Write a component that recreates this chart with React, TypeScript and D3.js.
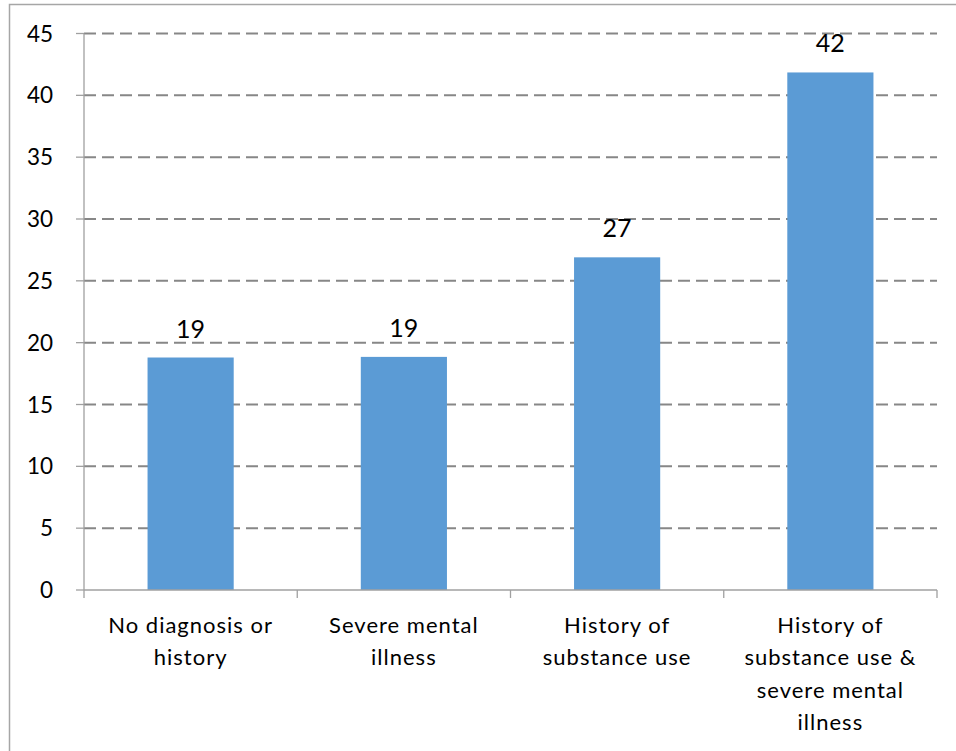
import React from "react";
import * as d3 from "d3";

const categories: string[][] = [
  ["No diagnosis or", "history"],
  ["Severe mental", "illness"],
  ["History of", "substance use"],
  ["History of", "substance use &", "severe mental", "illness"],
];
const values = [18.8, 18.85, 26.9, 41.85];
const valueLabels = ["19", "19", "27", "42"];
const yTicks = [0, 5, 10, 15, 20, 25, 30, 35, 40, 45];

const W = 956;
const H = 751;
const left = 84;
const right = 937;
const top = 33.5;
const bottom = 590;
const FONT = "Lato, 'Open Sans', sans-serif";

export default function App() {
  const x = d3
    .scaleBand<number>()
    .domain(categories.map((_, i) => i))
    .range([left, right])
    .paddingInner(0)
    .paddingOuter(0);
  const y = d3.scaleLinear().domain([0, 45]).range([bottom, top]);
  const bw = x.bandwidth() * 0.404;

  return (
    <svg
      width={W}
      height={H}
      style={{ position: "absolute", left: 0, top: 0, background: "#fff" }}
    >
      <rect x={9.5} y={4.5} width={960} height={760} fill="#fff" stroke="#a6a6a6" strokeWidth={1.5} />
      {yTicks.slice(1).map((t) => (
        <line
          key={"g" + t}
          x1={left}
          x2={right}
          y1={y(t)}
          y2={y(t)}
          stroke="#878787"
          strokeWidth={2}
          strokeDasharray="12,6"
        />
      ))}
      {values.map((v, i) => (
        <rect
          key={"b" + i}
          x={x(i)! + x.bandwidth() / 2 - bw / 2}
          y={y(v)}
          width={bw}
          height={bottom - y(v)}
          fill="#5B9BD5"
        />
      ))}
      <line x1={left} x2={left} y1={top} y2={bottom} stroke="#a0a0a0" strokeWidth={1.3} />
      <line x1={left} x2={right} y1={bottom} y2={bottom} stroke="#a0a0a0" strokeWidth={1.3} />
      {yTicks.map((t) => (
        <g key={"t" + t}>
          <line x1={left - 8} x2={left} y1={y(t)} y2={y(t)} stroke="#a0a0a0" strokeWidth={1.3} />
          <text
            x={53}
            y={y(t) + 8}
            textAnchor="end"
            fontFamily={FONT}
            fontSize={22.5}
            fill="#000"
          >
            {t}
          </text>
        </g>
      ))}
      {d3.range(categories.length + 1).map((i) => {
        const xx = left + i * x.step();
        return (
          <line key={"ct" + i} x1={xx} x2={xx} y1={bottom} y2={bottom + 8} stroke="#a0a0a0" strokeWidth={1.3} />
        );
      })}
      {categories.map((lines, i) => (
        <text
          key={"c" + i}
          textAnchor="middle"
          fontFamily={FONT}
          fontSize={22}
          letterSpacing={1}
          fill="#000"
        >
          {lines.map((l, j) => (
            <tspan key={j} x={x(i)! + x.bandwidth() / 2} y={633 + j * 32.3}>
              {l}
            </tspan>
          ))}
        </text>
      ))}
      {values.map((v, i) => (
        <text
          key={"l" + i}
          x={x(i)! + x.bandwidth() / 2}
          y={y(v) - 20}
          textAnchor="middle"
          fontFamily={FONT}
          fontSize={25}
          fill="#000"
        >
          {valueLabels[i]}
        </text>
      ))}
    </svg>
  );
}
